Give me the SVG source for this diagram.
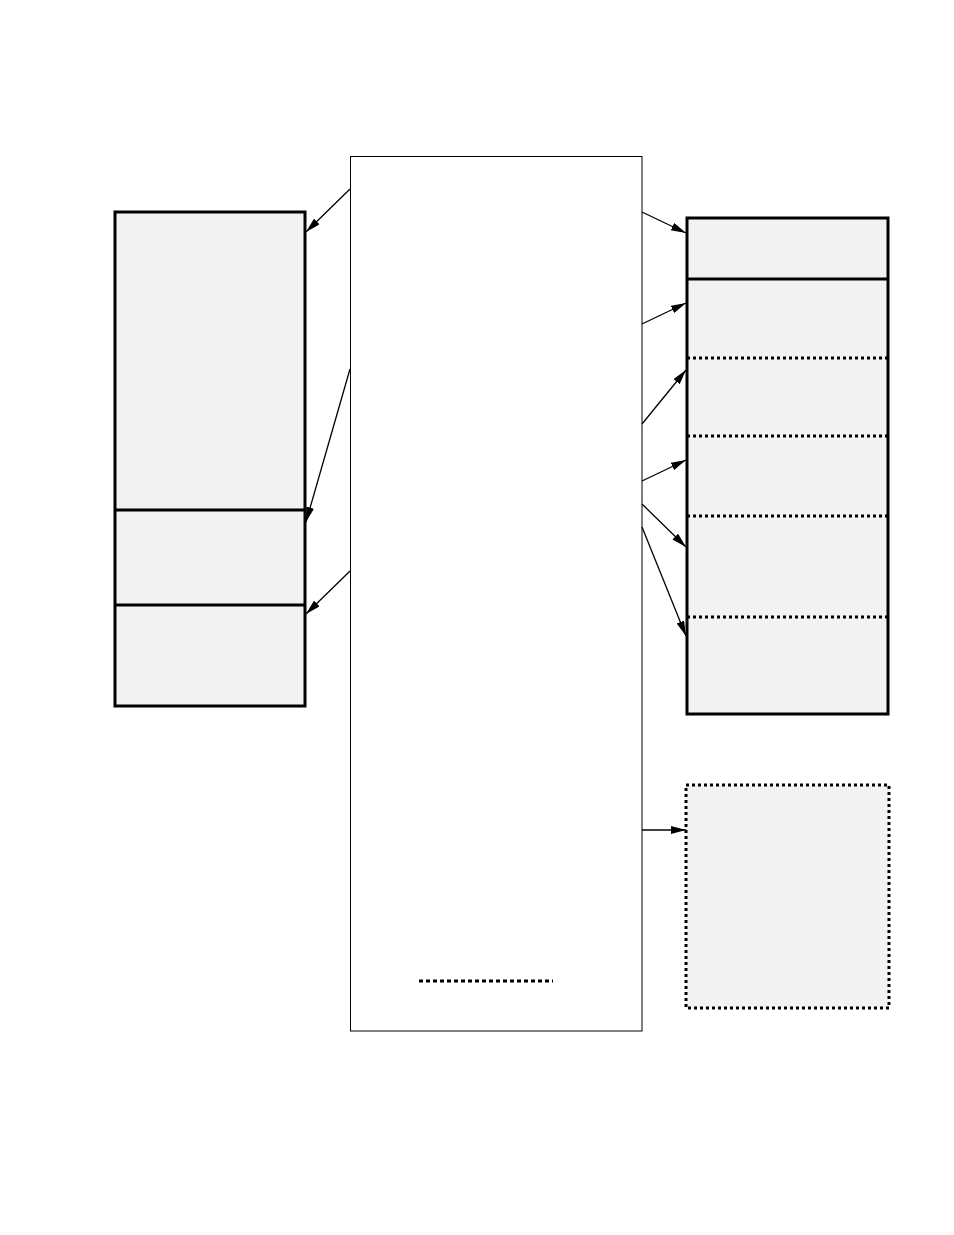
<svg xmlns="http://www.w3.org/2000/svg" width="954" height="1235" viewBox="0 0 954 1235">
<style>
.box{fill:#f2f2f2;stroke:#000;stroke-width:3}
.dbox{fill:#f2f2f2;stroke:#000;stroke-width:3;stroke-dasharray:3 3}
.div{stroke:#000;stroke-width:3;fill:none}
.dot{stroke:#000;stroke-width:3;stroke-dasharray:3 3;fill:none}
.conn{stroke:#000;stroke-width:1.3;fill:none;marker-end:url(#ah)}
</style>
<defs>
<marker id="ah" markerUnits="userSpaceOnUse" markerWidth="16" markerHeight="10" refX="15" refY="4" orient="auto">
<path d="M0,0 L15,4 L0,8 z" fill="#000"/>
</marker>
</defs>
<rect width="954" height="1235" fill="#fff"/>
<g id="center">
<rect x="350.5" y="156.5" width="291.5" height="874.5" fill="#fff" stroke="#000" stroke-width="1"/>
<line x1="419" y1="981" x2="553" y2="981" stroke="#000" stroke-width="3" stroke-dasharray="4 3"/>
</g>
<g id="left">
<rect class="box" x="115" y="212" width="190" height="494"/>
<line class="div" x1="115" y1="510" x2="305" y2="510"/>
<line class="div" x1="115" y1="605" x2="305" y2="605"/>
</g>
<g id="right">
<rect class="box" x="687" y="218" width="201" height="496"/>
<line class="div" x1="687" y1="279" x2="888" y2="279"/>
<line class="dot" x1="687" y1="358" x2="888" y2="358"/>
<line class="dot" x1="687" y1="436" x2="888" y2="436"/>
<line class="dot" x1="687" y1="516" x2="888" y2="516"/>
<line class="dot" x1="687" y1="617" x2="888" y2="617"/>
</g>
<g id="extra">
<rect class="dbox" x="686" y="785" width="203" height="223"/>
</g>
<g id="connectors">
<line class="conn" x1="350" y1="189" x2="306" y2="232"/>
<line class="conn" x1="350" y1="369" x2="306" y2="522"/>
<line class="conn" x1="350" y1="571" x2="306" y2="614"/>
<line class="conn" x1="642" y1="212" x2="686" y2="233"/>
<line class="conn" x1="642" y1="324" x2="686" y2="303"/>
<line class="conn" x1="642" y1="424" x2="686" y2="370"/>
<line class="conn" x1="642" y1="481" x2="686" y2="460"/>
<line class="conn" x1="642" y1="504" x2="686" y2="547"/>
<line class="conn" x1="642" y1="527" x2="686" y2="636"/>
<line class="conn" x1="642" y1="830" x2="686" y2="830"/>
</g>
</svg>
